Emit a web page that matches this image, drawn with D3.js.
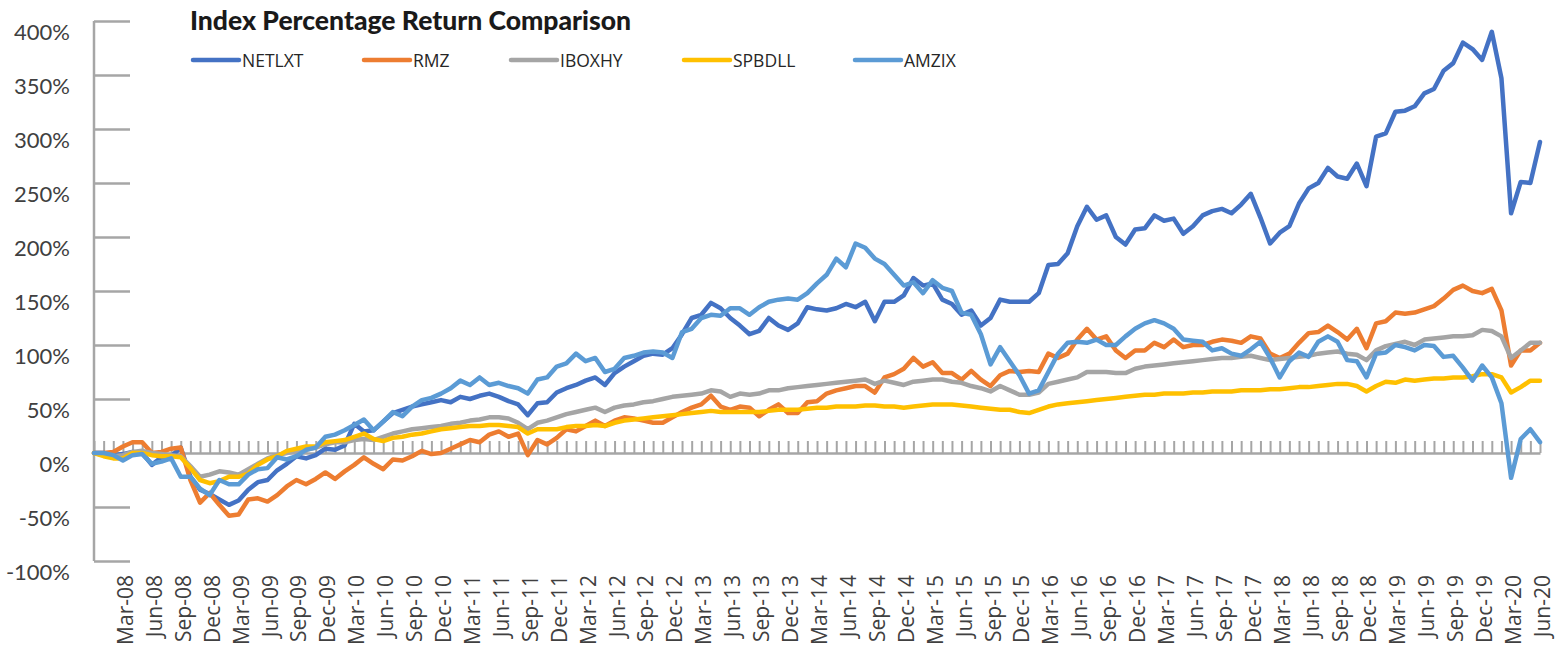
<!DOCTYPE html>
<html>
<head>
<meta charset="utf-8">
<script src="https://cdn.jsdelivr.net/npm/d3@7"></script>
<style>
  body { margin: 0; background: #fff; }
  svg { display: block; }
</style>
</head>
<body>
<svg id="chart" width="1555" height="658"></svg>
<script>
// monthly points, Dec-07 .. Jun-20
const startMonth = new Date(2007, 11, 1);
const seriesNames = ["NETLXT", "RMZ", "IBOXHY", "SPBDLL", "AMZIX"];
const seriesColors = ["#4472C4", "#ED7D31", "#A5A5A5", "#FFC000", "#5B9BD5"];
const yTicks = [-100, -50, 0, 50, 100, 150, 200, 250, 300, 350, 400];

const netlxt = [0, 0, -2, -1, 1, 0, -11, -4, -3, 5, -22, -34, -38, -43, -48, -44, -34, -27, -25, -16,
  -10, -3, -5, -2, 4, 3, 7, 27, 20, 21, 29, 37, 40, 43, 45, 47, 49, 47, 52, 50,
  53, 55, 52, 48, 45, 35, 46, 47, 56, 60, 63, 67, 70, 63, 74, 80, 85, 90, 92, 91,
  97, 110, 125, 128, 139, 134, 125, 118, 110, 113, 125, 118, 114, 120, 135, 133, 132, 134, 138, 135,
  140, 122, 140, 140, 146, 162, 155, 157, 142, 138, 128, 132, 118, 125, 142, 140, 140, 140, 148, 174,
  175, 185, 210, 228, 216, 220, 200, 193, 207, 208, 220, 215, 217, 203, 210, 220, 224, 226, 222, 230,
  240, 218, 194, 204, 210, 231, 245, 250, 264, 256, 254, 268, 247, 293, 296, 316, 317, 321, 333, 337,
  354, 361, 380, 374, 364, 390, 347, 222, 251, 250, 288];
const rmz = [0, 0, 1, 6, 10, 10, 0, 1, 4, 5, -25, -46, -37, -48, -58, -57, -43, -42, -45, -39,
  -31, -25, -29, -24, -18, -24, -17, -11, -4, -10, -15, -6, -7, -3, 2, -1, 0, 4, 8, 12,
  10, 17, 20, 15, 18, -2, 12, 8, 14, 22, 20, 25, 30, 25, 30, 33, 32, 30, 28, 28,
  33, 38, 42, 45, 53, 43, 40, 43, 42, 34, 40, 45, 37, 37, 47, 48, 55, 58, 60, 62,
  62, 56, 70, 73, 78, 88, 80, 84, 74, 74, 68, 76, 68, 62, 72, 76, 75, 76, 75, 92,
  88, 92, 105, 115, 105, 108, 95, 88, 95, 95, 102, 98, 105, 98, 100, 100, 103, 105, 104, 102,
  108, 106, 92, 88, 92, 102, 111, 112, 118, 112, 105, 115, 97, 120, 122, 130, 129, 130, 133, 136,
  143, 151, 155, 150, 148, 152, 132, 81, 95, 95, 102];
const iboxhy = [0, -2, -3, -2, 1, 2, 0, -1, -2, -3, -12, -22, -20, -17, -18, -20, -15, -10, -5, -2,
  0, 2, 3, 5, 8, 10, 10, 12, 13, 12, 15, 18, 20, 22, 23, 24, 25, 27, 28, 30,
  31, 33, 33, 32, 28, 22, 28, 30, 33, 36, 38, 40, 42, 38, 42, 44, 45, 47, 48, 50,
  52, 53, 54, 55, 58, 57, 52, 55, 54, 55, 58, 58, 60, 61, 62, 63, 64, 65, 66, 67,
  68, 64, 67, 65, 63, 66, 67, 68, 68, 66, 65, 62, 60, 57, 62, 58, 54, 54, 56, 64,
  66, 68, 70, 75, 75, 75, 74, 74, 78, 80, 81, 82, 83, 84, 85, 86, 87, 88, 88, 89,
  90, 88, 86, 87, 88, 89, 90, 92, 93, 94, 92, 91, 86, 95, 99, 101, 103, 100, 105, 106,
  107, 108, 108, 109, 114, 113, 108, 88, 95, 102, 102];
const spbdll = [0, -3, -5, -5, 0, 0, -2, -3, -3, -4, -14, -25, -28, -26, -22, -22, -19, -11, -6, -3,
  2, 4, 6, 6, 10, 11, 12, 15, 18, 13, 11, 14, 15, 17, 18, 20, 22, 23, 24, 25,
  25, 26, 26, 25, 24, 18, 22, 22, 22, 24, 25, 25, 26, 25, 28, 30, 31, 32, 33, 34,
  35, 36, 37, 38, 39, 38, 38, 38, 38, 38, 39, 40, 40, 40, 41, 42, 42, 43, 43, 43,
  44, 44, 43, 43, 42, 43, 44, 45, 45, 45, 44, 43, 42, 41, 40, 40, 38, 37, 40, 43,
  45, 46, 47, 48, 49, 50, 51, 52, 53, 54, 54, 55, 55, 55, 56, 56, 57, 57, 57, 58,
  58, 58, 59, 59, 60, 61, 61, 62, 63, 64, 64, 62, 57, 62, 66, 65, 68, 67, 68, 69,
  69, 70, 70, 71, 73, 73, 70, 56, 61, 67, 67];
const amzix = [0, 0, -2, -7, -2, -1, -10, -8, -5, -22, -22, -33, -39, -25, -29, -29, -20, -15, -14, -4,
  -6, -3, 3, 5, 15, 17, 21, 26, 31, 21, 29, 38, 34, 43, 49, 51, 55, 60, 67, 63,
  70, 63, 65, 62, 60, 55, 68, 70, 80, 83, 92, 85, 88, 75, 78, 88, 90, 93, 94, 93,
  88, 112, 115, 125, 128, 127, 134, 134, 128, 135, 140, 142, 143, 142, 148, 157, 165, 180, 172, 194,
  190, 180, 175, 165, 155, 158, 148, 160, 153, 150, 130, 128, 110, 82, 98, 85, 72, 55, 58, 75,
  92, 102, 103, 102, 105, 100, 100, 108, 115, 120, 123, 120, 115, 105, 104, 103, 95, 97, 92, 90,
  96, 103, 88, 70, 85, 93, 89, 103, 108, 103, 86, 85, 70, 92, 93, 100, 98, 95, 100, 99,
  89, 90, 79, 67, 81, 70, 46, -23, 13, 22, 10];

const seriesValues = [netlxt, rmz, iboxhy, spbdll, amzix];
const fmtMonth = d3.timeFormat("%b-%y");
const months = d3.range(netlxt.length).map(i => fmtMonth(d3.timeMonth.offset(startMonth, i)));
// quarter-end labels, Mar-08 onward
const labelMonths = months.filter((m, i) => i > 0 && i % 3 === 0);

const svg = d3.select("#chart");

const x = d3.scalePoint()
  .domain(months)
  .range([94, 1540]);
const y = d3.scaleLinear()
  .domain([-100, 400])
  .range([561, 21]);

// y axis
const yAxis = svg.append("g")
  .attr("transform", "translate(94,0)")
  .call(d3.axisRight(y).tickValues(yTicks).tickSize(36).tickFormat(""));
yAxis.select(".domain").attr("stroke", "#A6A6A6").attr("stroke-width", 2.5)
  .attr("d", `M0,${y(400)}V${y(-100)}`);
yAxis.selectAll(".tick line").attr("stroke", "#A6A6A6").attr("stroke-width", 2.5);

svg.append("g").selectAll("text")
  .data(yTicks)
  .enter()
  .append("text")
  .attr("x", 70)
  .attr("y", d => y(d) + 19)
  .attr("text-anchor", "end")
  .style("font-family", "Lato, sans-serif")
  .style("font-size", "22px")
  .attr("fill", "#404040")
  .text(d => d + "%");

// x axis at zero, tick each month
const xAxis = svg.append("g")
  .attr("transform", `translate(0,${y(0)})`)
  .call(d3.axisTop(x).tickSize(12).tickSizeOuter(0).tickFormat(""));
xAxis.select(".domain").attr("stroke", "#A6A6A6").attr("stroke-width", 2.5);
xAxis.selectAll(".tick line").attr("stroke", "#A6A6A6").attr("stroke-width", 2);

// labels along the bottom
svg.append("g").selectAll("text")
  .data(labelMonths)
  .enter()
  .append("text")
  .attr("transform", d => `translate(${x(d) + 10},575) rotate(-90)`)
  .attr("text-anchor", "end")
  .style("font-family", "'Open Sans', sans-serif")
  .style("font-size", "21px")
  .attr("fill", "#404040")
  .text(d => d);

// lines
const line = d3.line()
  .x((d, i) => x(months[i]))
  .y(d => y(d));

svg.append("g").selectAll("path")
  .data(seriesValues)
  .enter()
  .append("path")
  .attr("d", d => line(d))
  .attr("fill", "none")
  .attr("stroke", (d, i) => seriesColors[i])
  .attr("stroke-width", 4.5)
  .attr("stroke-linejoin", "round")
  .attr("stroke-linecap", "round");

// title
svg.append("text")
  .attr("x", 190)
  .attr("y", 30)
  .style("font-family", "Lato, sans-serif")
  .style("font-weight", 900)
  .style("font-size", "26.5px")
  .attr("fill", "#1a1a1a")
  .text("Index Percentage Return Comparison");

// legend
const legendX = [193, 364, 511, 684, 855];
const legend = svg.append("g");
seriesNames.forEach((name, i) => {
  const g = legend.append("g").attr("transform", `translate(${legendX[i]},60)`);
  g.append("line")
    .attr("x1", 0).attr("x2", 46)
    .attr("stroke", seriesColors[i])
    .attr("stroke-width", 4.5)
    .attr("stroke-linecap", "round");
  g.append("text")
    .attr("x", 49)
    .attr("y", 6.5)
    .style("font-family", "'Open Sans', sans-serif")
    .style("font-size", "17.5px")
    .attr("fill", "#262626")
    .text(name);
});
</script>
</body>
</html>
